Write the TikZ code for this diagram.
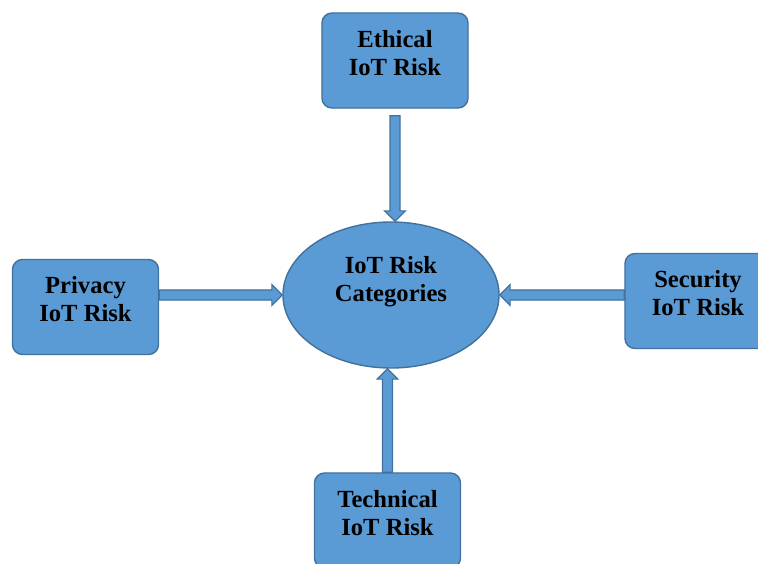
\documentclass[tikz,border=0pt]{standalone}
\usepackage{fontspec}
\setmainfont{Liberation Serif}
\usetikzlibrary{calc, shapes.geometric}

\definecolor{boxfill}{HTML}{5B9BD5}
\definecolor{boxline}{HTML}{41719C}

\tikzset{
    riskbox/.style = {draw = boxline, fill = boxfill, line width = 1pt, rounded corners = 0.25cm,
        minimum width = 3.65cm, minimum height = 2.375cm, align = center,
        text height = 34pt, text depth = 13pt,
        font = \fontsize{17.5}{20}\selectfont\bfseries},
    hubnode/.style = {ellipse, draw = boxline, fill = boxfill, line width = 1pt, inner sep = 0pt,
        minimum width = 5.4cm, minimum height = 3.65cm, align = center,
        text height = 34pt, text depth = 25pt,
        font = \fontsize{17.5}{20}\selectfont\bfseries},
    blockarr/.style = {draw = boxline, fill = boxfill, line width = 0.8pt, line join = miter}
}

% block arrow from #1 to #2
\newcommand{\blockarrow}[2]{%
    \path (#1) coordinate (ba-s) (#2) coordinate (ba-e);
    \coordinate (ba-h) at ($(ba-e)!0.26cm!(ba-s)$);
    \draw[blockarr] ($(ba-s)!0.125cm!90:(ba-e)$) -- ($(ba-h)!0.125cm!90:(ba-e)$)
        -- ($(ba-h)!0.26cm!90:(ba-e)$) -- (ba-e) -- ($(ba-h)!0.26cm!-90:(ba-e)$)
        -- ($(ba-h)!0.125cm!-90:(ba-e)$) -- ($(ba-s)!0.125cm!-90:(ba-e)$) -- cycle;
}

\begin{document}
\begin{tikzpicture}[x = 0.025cm, y = -0.025cm]
    % \draw[style = help lines, step = 50] (0,0) grid (758,564);
    \useasboundingbox (0,0) rectangle (758,564);
    \clip (0,0) rectangle (758,564);

    \node[hubnode] (cat) at (391,295) {IoT Risk\\Categories};

    \node[riskbox] (eth) at (395,60.5) {Ethical\\IoT Risk};
    \node[riskbox] (pri) at (85.5,307) {Privacy\\IoT Risk};
    \node[riskbox] (sec) at (698,301) {Security\\IoT Risk};
    \node[riskbox] (tec) at (387.5,520.5) {Technical\\IoT Risk};

    \blockarrow{$(eth.south)+(0,7)$}{cat.north -| eth.south}
    \blockarrow{pri.east |- cat.west}{cat.west}
    \blockarrow{sec.west |- cat.east}{cat.east}
    \blockarrow{tec.north}{cat.south -| tec.north}
\end{tikzpicture}
\end{document}
